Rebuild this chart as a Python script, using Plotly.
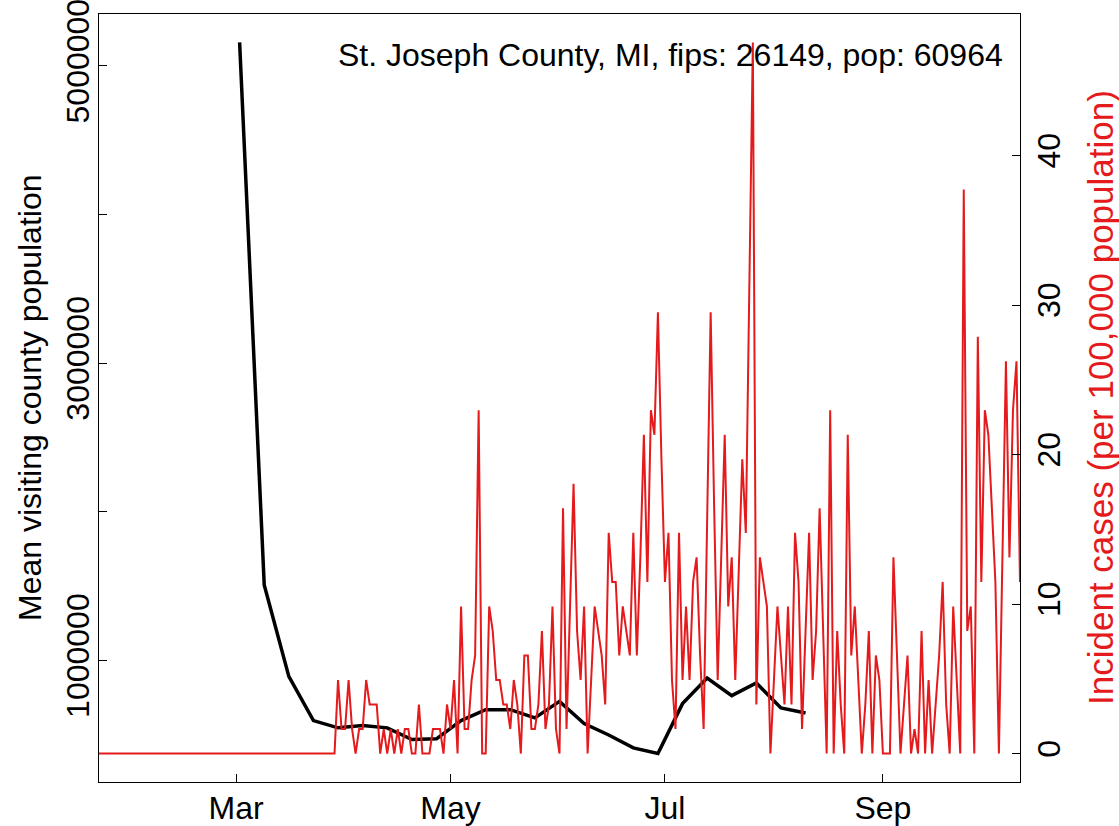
import plotly.graph_objects as go
import pandas as pd

# ---------------- data ----------------
population = 60964
case_start = "2020-01-22"
# daily incident case counts (converted to per-100,000 below)
daily_cases = [0] * 67 + [
    0, 3, 1, 1, 3, 1, 0, 1, 1, 3, 2, 2, 2, 0, 1, 0, 1, 0, 1, 0,
    1, 1, 0, 0, 2, 0, 0, 0, 1, 1, 1, 0, 2, 1, 3, 0, 6, 1, 1, 3,
    4, 14, 0, 0, 6, 5, 3, 3, 2, 2, 1, 3, 2, 0, 4, 4, 1, 1, 2, 5,
    1, 2, 6, 1, 0, 10, 1, 6, 11, 5, 3, 6, 0, 3, 6, 5, 4, 2, 9, 7,
    7, 4, 6, 5, 4, 9, 4, 8, 13, 7, 14, 13, 18, 12, 7, 9, 3, 1, 9, 3,
    6, 3, 7, 8, 4, 1, 10, 18, 10, 3, 8, 13, 6, 8, 3, 8, 12, 9, 20, 29,
    2, 8, 7, 6, 0, 3, 6, 4, 2, 6, 2, 9, 7, 1, 5, 9, 3, 5, 10, 5,
    0, 14, 0, 5, 2, 0, 13, 4, 6, 3, 0, 2, 5, 0, 4, 3, 0, 0, 0, 8,
    4, 0, 2, 4, 0, 1, 0, 5, 0, 3, 0, 2, 4, 7, 2, 0, 6, 3, 0, 23,
    5, 6, 0, 17, 7, 14, 13, 10, 7, 0, 8, 16, 8, 14, 16, 7,
]

visit_start = "2020-03-02"
# weekly mean visiting county population
visit_mean = [
    5158000, 1508000, 892000, 595000, 546000, 561000, 546000, 467000,
    472000, 595000, 668000, 668000, 613000, 724000, 575000, 498000,
    411000, 373000, 709000, 881000, 763000, 848000, 680000, 646000,
]

x_ticks = ["2020-03-01", "2020-05-01", "2020-07-01", "2020-09-01"]
x_tick_text = ["Mar", "May", "Jul", "Sep"]
left_ticks = [1000000, 2000000, 3000000, 4000000, 5000000]
left_tick_text = ["1000000", "", "3000000", "", "5000000"]
right_ticks = [0, 10, 20, 30, 40]

title_text = "St. Joseph County, MI, fips: 26149, pop: 60964"
left_title = "Mean visiting county population"
right_title = "Incident cases (per 100,000 population)"

# ---------------- derived ----------------
case_dates = pd.date_range(case_start, periods=len(daily_cases), freq="D")
case_rate = [c * 100000 / population for c in daily_cases]
visit_dates = pd.date_range(visit_start, periods=len(visit_mean), freq="7D")

RED = "#E41A1C"
FONT = "Liberation Sans, Arial, Helvetica, sans-serif"
FS = 32

fig = go.Figure()
fig.add_trace(go.Scatter(x=visit_dates, y=visit_mean, mode="lines",
                         line=dict(color="black", width=3.5),
                         yaxis="y", showlegend=False))
fig.add_trace(go.Scatter(x=case_dates, y=case_rate, mode="lines",
                         line=dict(color=RED, width=2),
                         yaxis="y2", showlegend=False))

vmin, vmax = min(visit_mean), max(visit_mean)
vpad = 0.04 * (vmax - vmin)
rmax = max(case_rate)
rpad = 0.04 * rmax

fig.update_layout(
    width=1119, height=826,
    margin=dict(l=99, r=99, t=14, b=44, pad=0),
    paper_bgcolor="white", plot_bgcolor="white",
    font=dict(family=FONT, size=FS, color="black"),
    xaxis=dict(type="date", range=["2020-01-22", "2020-10-10"],
               tickvals=x_ticks, ticktext=x_tick_text,
               ticks="inside", ticklen=8, tickwidth=1.2, tickcolor="black",
               showline=True, mirror=True, linecolor="black", linewidth=1.2,
               showgrid=False, zeroline=False, ticklabelstandoff=-3,
               automargin=False),
    yaxis=dict(range=[vmin - vpad, vmax + vpad],
               tickvals=left_ticks, ticktext=left_tick_text, tickangle=-90,
               ticks="inside", ticklen=8, tickwidth=1.2, tickcolor="black",
               showline=True, mirror=True, linecolor="black", linewidth=1.2,
               showgrid=False, zeroline=False, ticklabelstandoff=-4,
               ticklabeloverflow="allow", automargin=False),
    yaxis2=dict(range=[-rpad, rmax + rpad], overlaying="y", side="right",
                tickvals=right_ticks, tickangle=-90,
                ticks="inside", ticklen=8, tickwidth=1.2, tickcolor="black",
                showline=True, linecolor="black", linewidth=1.2,
                showgrid=False, zeroline=False, ticklabeloverflow="allow",
                automargin=False),
    annotations=[
        dict(text=title_text, xref="paper", yref="paper", x=0.9837, y=0.9466,
             xanchor="right", yanchor="middle", showarrow=False,
             font=dict(size=FS, color="black")),
        dict(text=left_title, xref="paper", yref="paper", x=(30 - 99) / 921, y=0.5,
             xanchor="center", yanchor="middle", textangle=-90, showarrow=False,
             font=dict(size=FS, color="black")),
        dict(text=right_title, xref="paper", yref="paper", x=(1100 - 99) / 921, y=0.5,
             xanchor="center", yanchor="middle", textangle=-90, showarrow=False,
             font=dict(size=35, color=RED)),
    ],
)

fig.write_html("out.html", config={"displayModeBar": False},
               post_script="document.body.style.margin='0px';document.body.style.padding='0px';")
